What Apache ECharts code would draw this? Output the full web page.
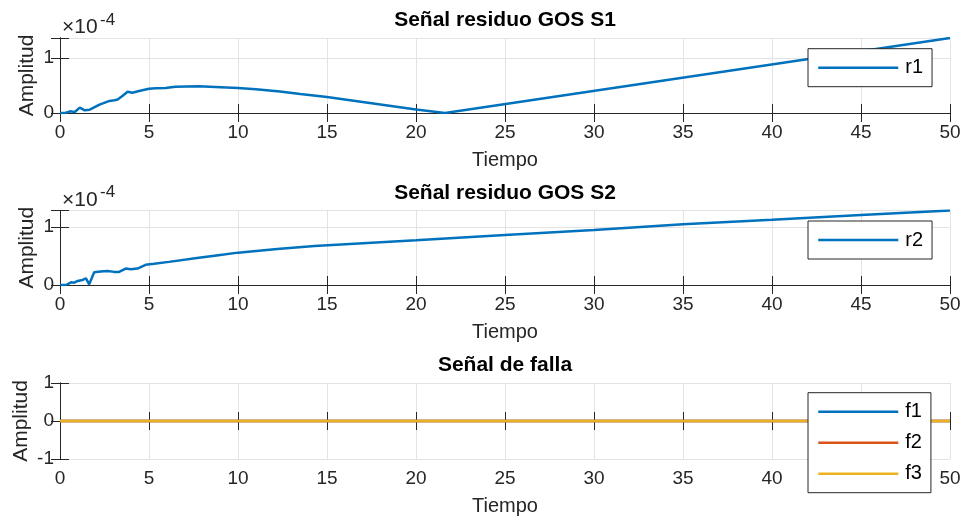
<!DOCTYPE html>
<html><head><meta charset="utf-8">
<script src="https://cdn.jsdelivr.net/npm/echarts@6/dist/echarts.min.js"></script>
<style>html,body{margin:0;padding:0;background:#fff}#c{width:969px;height:521px}</style>
</head><body><div id="c"></div>
<script>
// Values of r1 and r2 are in units of 1e-4
const t1 = [0, 0.3, 0.56, 0.83, 1.11, 1.39, 1.67, 2.22, 2.78, 3.06, 3.24, 3.52, 3.8, 4.07, 4.44, 5, 5.37, 5.93, 6.48, 7.78, 10, 11, 12.36, 13.5, 15, 17, 20, 21.63, 50];
const r1 = [0, 0.0, 0.03, 0.018, 0.098, 0.049, 0.061, 0.153, 0.22, 0.233, 0.245, 0.313, 0.386, 0.368, 0.399, 0.442, 0.448, 0.454, 0.479, 0.485, 0.455, 0.43, 0.39, 0.345, 0.29, 0.2, 0.064, 0, 1.364];
const t2 = [0, 0.34, 0.62, 0.8, 0.99, 1.27, 1.46, 1.64, 1.92, 2.29, 2.67, 3.04, 3.32, 3.69, 3.97, 4.35, 4.81, 5.28, 6.12, 7.8, 8.9, 10, 12.2, 14.3, 20, 25, 28, 30, 35, 40, 45, 50];
const r2 = [0, 0, 0.047, 0.04, 0.07, 0.087, 0.116, 0.012, 0.22, 0.233, 0.244, 0.227, 0.227, 0.285, 0.273, 0.285, 0.349, 0.366, 0.40, 0.47, 0.515, 0.56, 0.624, 0.676, 0.773, 0.866, 0.918, 0.953, 1.05, 1.127, 1.21, 1.289];
const tf = [0, 50];
const f1 = [0, 0];
const f2 = [0, 0];
const f3 = [0, 0];
const xTickStep = 5;
const titles = ['Señal residuo GOS S1', 'Señal residuo GOS S2', 'Señal de falla'];
const xLabel = 'Tiempo';
const yLabel = 'Amplitud';
const expBase = '×10';
const expPow = '-4';

const FONT = '"Liberation Sans", Arial, Helvetica, sans-serif';
const AX = '#262626';
const GRIDC = '#e3e3e3';
const BLUE = '#0072BD', ORANGE = '#D95319', YELLOW = '#EDB120';

const grids = [
  {left: 60, right: 19, top: 38, height: 75},
  {left: 60, right: 19, top: 210.5, height: 74.5},
  {left: 60, right: 19, top: 383, height: 76}
];
const yRanges = [
  {min: 0, max: Math.max(...r1), nameGap: 22},
  {min: 0, max: Math.max(...r2), nameGap: 22},
  {min: -1, max: 1, nameGap: 28}
];

const xAxis = [], yAxis = [];
grids.forEach((g, i) => {
  xAxis.push({
    type: 'value', gridIndex: i, position: 'bottom', min: 0, max: 50, interval: xTickStep,
    name: xLabel, nameLocation: 'middle', nameGap: 37, nameMoveOverlap: false,
    nameTextStyle: {fontFamily: FONT, fontSize: 20, color: AX},
    axisLine: {show: true, lineStyle: {color: AX, width: 1}},
    axisTick: {show: true, inside: true, length: 9, lineStyle: {color: AX}},
    axisLabel: {fontFamily: FONT, fontSize: 19, color: AX, margin: 10},
    splitLine: {show: true, lineStyle: {color: GRIDC, width: 1}}
  });
  xAxis.push({
    type: 'value', gridIndex: i, position: 'top', min: 0, max: 50, interval: xTickStep,
    axisLine: {show: true, lineStyle: {color: AX, width: 1}},
    axisTick: {show: true, inside: true, length: 9, lineStyle: {color: AX}},
    axisLabel: {show: false}, splitLine: {show: false}
  });
  const yr = yRanges[i];
  yAxis.push({
    type: 'value', gridIndex: i, position: 'left', min: yr.min, max: yr.max, interval: 1,
    name: yLabel, nameLocation: 'middle', nameGap: yr.nameGap, nameMoveOverlap: false,
    nameTextStyle: {fontFamily: FONT, fontSize: 21, color: AX},
    axisLine: {show: true, lineStyle: {color: AX, width: 1}},
    axisTick: {show: true, inside: true, length: 9, lineStyle: {color: AX}},
    axisLabel: {fontFamily: FONT, fontSize: 19, color: AX, margin: 6,
      formatter: v => Number.isInteger(v) ? String(v) : ''},
    splitLine: {show: true, lineStyle: {color: GRIDC, width: 1}}
  });
  yAxis.push({
    type: 'value', gridIndex: i, position: 'right', min: yr.min, max: yr.max, interval: 1,
    axisLine: {show: true, lineStyle: {color: AX, width: 1}},
    axisTick: {show: true, inside: true, length: 9, lineStyle: {color: AX}},
    axisLabel: {show: false}, splitLine: {show: false}
  });
});

function mk(name, t, v, gi, color) {
  return {
    name, type: 'line', xAxisIndex: gi * 2, yAxisIndex: gi * 2,
    data: t.map((x, k) => [x, v[k]]), symbol: 'none', smooth: false,
    lineStyle: {color, width: 2.5}, itemStyle: {color}, z: 3
  };
}
const series = [
  mk('r1', t1, r1, 0, BLUE),
  mk('r2', t2, r2, 1, BLUE),
  mk('f1', tf, f1, 2, BLUE),
  mk('f2', tf, f2, 2, ORANGE),
  mk('f3', tf, f3, 2, YELLOW)
];

const legBase = {
  orient: 'vertical', left: 808, itemWidth: 80, itemHeight: 20, itemGap: 11,
  padding: [9, 9, 9, 9], backgroundColor: '#fff', borderColor: AX, borderWidth: 1,
  borderRadius: 0, selectedMode: false, z: 10,
  itemStyle: {opacity: 0, borderWidth: 0},
  lineStyle: {width: 2.5},
  textStyle: {fontFamily: FONT, fontSize: 20, color: '#000', padding: [0, 0, 0, 2]}
};
const legend = [
  Object.assign({}, legBase, {top: 48.7, data: ['r1']}),
  Object.assign({}, legBase, {top: 221, data: ['r2']}),
  Object.assign({}, legBase, {top: 392.7, data: ['f1', 'f2', 'f3']})
];

const graphic = [];
grids.forEach((g, i) => {
  graphic.push({type: 'text', x: 505, y: g.top - 17.5, style: {
    text: titles[i], font: 'bold 21px ' + FONT, fill: '#000', align: 'center', verticalAlign: 'middle'}});
  if (i < 2) {
    graphic.push({type: 'text', x: 62, y: g.top - 10.5, style: {
      text: expBase, font: '21px ' + FONT, fill: AX, align: 'left', verticalAlign: 'middle'}});
    graphic.push({type: 'text', x: 100, y: g.top - 18, style: {
      text: expPow, font: '17px ' + FONT, fill: AX, align: 'left', verticalAlign: 'middle'}});
  }
});

const chart = echarts.init(document.getElementById('c'), null, {renderer: 'canvas'});
chart.setOption({
  animation: false, backgroundColor: '#fff',
  grid: grids.map(g => Object.assign({show: false, containLabel: false, outerBoundsMode: 'none'}, g)),
  xAxis, yAxis, series, legend, graphic
});
</script></body></html>
